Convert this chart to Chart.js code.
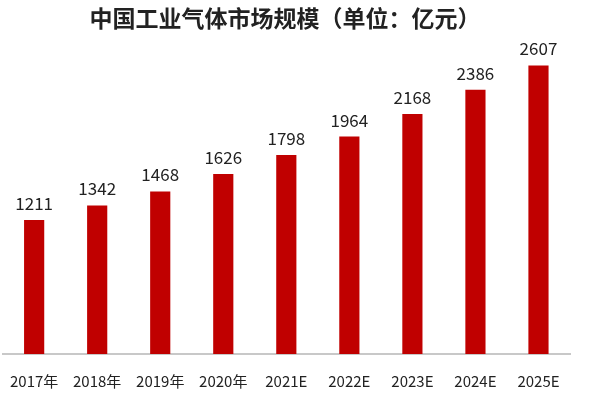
<!DOCTYPE html>
<html>
<head>
<meta charset="utf-8">
<script src="https://cdn.jsdelivr.net/npm/chart.js@4"></script>
<style>
  html, body { margin: 0; padding: 0; background: #fff; }
  #wrap { width: 600px; height: 400px; }
</style>
</head>
<body>
<div id="wrap"><canvas id="barChart"></canvas></div>
<script>
// Data
const years = ['2017年', '2018年', '2019年', '2020年', '2021E', '2022E', '2023E', '2024E', '2025E'];
const marketSize = [1211, 1342, 1468, 1626, 1798, 1964, 2168, 2386, 2607];

const ctx = document.getElementById('barChart').getContext('2d');

// draw the value above each bar
const valueLabels = {
    id: 'valueLabels',
    afterDatasetsDraw(chart) {
        const c = chart.ctx;
        c.save();
        c.font = '17px "Noto Sans CJK SC", "Noto Sans", sans-serif';
        c.fillStyle = '#222';
        c.textAlign = 'center';
        c.textBaseline = 'bottom';
        chart.getDatasetMeta(0).data.forEach((bar, i) => {
            c.fillText(marketSize[i], bar.x, bar.y - 8);
        });
        c.restore();
    }
};

new Chart(ctx, {
    type: 'bar',
    data: {
        labels: years,
        datasets: [{
            data: marketSize,
            backgroundColor: '#C00000',
            barPercentage: 0.32,
            categoryPercentage: 1
        }]
    },
    options: {
        responsive: true,
        maintainAspectRatio: false,
        animation: false,
        layout: { padding: { left: 0, right: 30, top: 0, bottom: 0 } },
        plugins: {
            legend: { display: false },
            tooltip: { enabled: false },
            title: {
                display: true,
                text: '中国工业气体市场规模（单位：亿元）',
                color: '#222',
                font: { size: 23, weight: 'bold', family: '"Noto Sans CJK SC", sans-serif' },
                padding: { top: 4, bottom: 8 }
            }
        },
        scales: {
            x: {
                grid: { display: false },
                border: { color: '#c8c8c8', width: 2 },
                ticks: {
                    color: '#222',
                    padding: 10,
                    font: { size: 15, family: '"Noto Sans CJK SC", sans-serif' }
                }
            },
            y: {
                display: false,
                min: 0,
                max: 2840
            }
        }
    },
    plugins: [valueLabels]
});
</script>
</body>
</html>
